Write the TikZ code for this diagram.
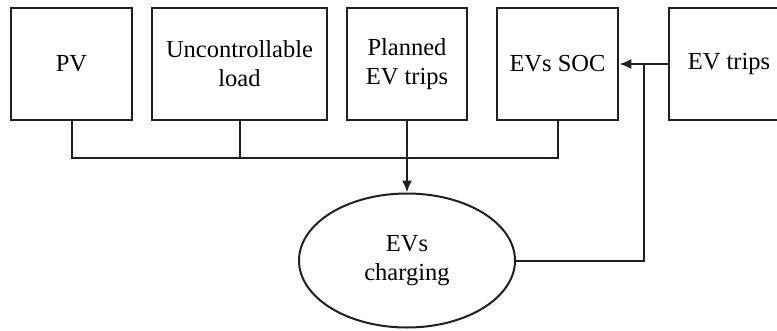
\documentclass[tikz,border=0pt]{standalone}
\usepackage{fontspec}
\setmainfont{Liberation Serif}
\usepackage{tikz}
\usetikzlibrary{arrows.meta, positioning, shapes.geometric, calc}
\definecolor{Ink}{HTML}{231F20}

\begin{document}
\begin{tikzpicture}[
  x=1pt, y=-1pt,
  font=\fontsize{24.5}{29}\selectfont,
  block/.style={draw=Ink, line width=2.5pt, align=center, minimum height=112pt, inner sep=0pt},
  task/.style={ellipse, draw=Ink, line width=2pt, align=center, minimum width=216pt, minimum height=134pt, inner sep=0pt},
  link/.style={draw=Ink, line width=2pt},
  arrow/.style={link, -{Latex[length=12pt, width=10pt]}}
]
\useasboundingbox (0,0) rectangle (777,330);
\clip (0,0) rectangle (777,330);
\node[block, minimum width=121pt] (pv) at (71.5,64) {PV};
\node[block, minimum width=175pt] (load) at (239.5,64) {Uncontrollable\\load};
\node[block, minimum width=120pt] (planned) at (407,64) {Planned\\EV trips};
\node[block, minimum width=121pt] (soc) at (557.5,64) {EVs SOC};
\node[block, minimum width=120pt] (trips) at (729,64) {EV trips};

\node[task] (charging) at (407,260.5) {EVs\\charging};

\coordinate (bus) at (0,158);
\coordinate (junc) at ($(soc.east)!0.5!(trips.west)$);

\draw[link] (pv.south) -- (pv.south |- bus) -- (soc.south |- bus) -- (soc.south);
\draw[link] (load.south) -- (load.south |- bus);
\draw[arrow] (planned.south) -- (charging.north);
\draw[arrow] (charging.east) -| (junc) -- (soc.east);
\draw[link] (trips.west) -- (junc);
\end{tikzpicture}
\end{document}
